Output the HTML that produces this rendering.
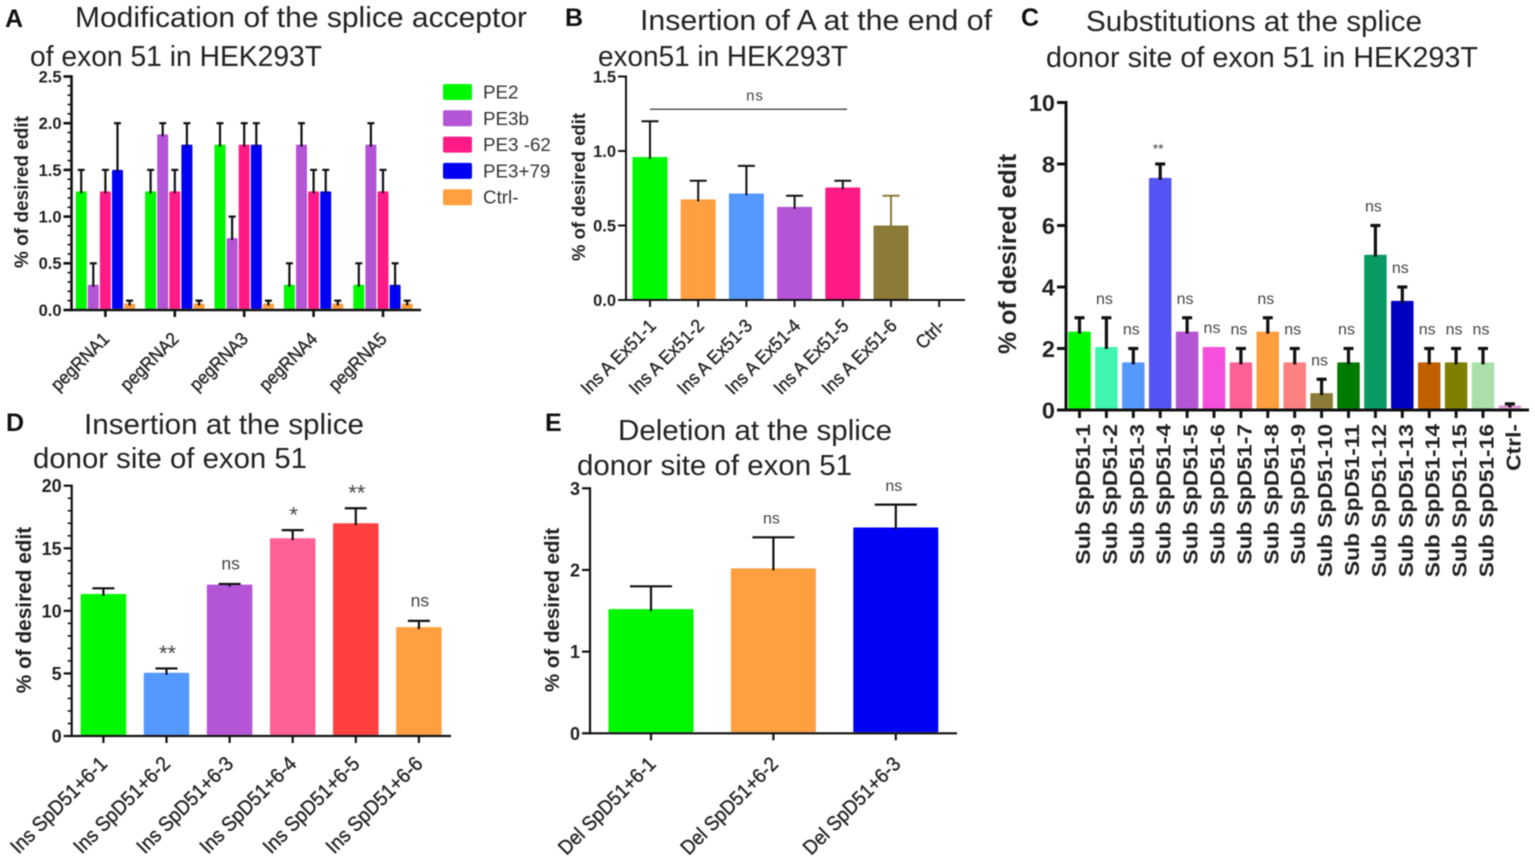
<!DOCTYPE html>
<html lang="en">
<head>
<meta charset="utf-8">
<title>Prime editing of exon 51 in HEK293T</title>
<style>
html,body{margin:0;padding:0;background:#fff;width:1535px;height:860px;overflow:hidden}
svg{position:absolute;left:0;top:0;display:block;filter:blur(0.4px)}
text{font-family:"Liberation Sans",sans-serif}
.title{font-size:29px;fill:#222}
.letter{font-size:25px;font-weight:bold;fill:#111}
</style>
</head>
<body>
<svg id="fig" xmlns="http://www.w3.org/2000/svg" width="1535" height="860" viewBox="0 0 1535 860">
<rect width="1535" height="860" fill="#fff"/>
<text class="letter" x="5" y="27">A</text>
<text class="title" x="75" y="27" textLength="452" lengthAdjust="spacingAndGlyphs">Modification of the splice acceptor</text>
<text class="title" x="30" y="66" textLength="292" lengthAdjust="spacingAndGlyphs">of exon 51 in HEK293T</text>
<text class="letter" x="565" y="26">B</text>
<text class="title" x="640" y="30" textLength="352" lengthAdjust="spacingAndGlyphs">Insertion of A at the end of</text>
<text class="title" x="598" y="66" textLength="250" lengthAdjust="spacingAndGlyphs">exon51 in HEK293T</text>
<text class="letter" x="1021" y="26">C</text>
<text class="title" x="1086" y="31" textLength="336" lengthAdjust="spacingAndGlyphs">Substitutions at the splice</text>
<text class="title" x="1046" y="67" textLength="432" lengthAdjust="spacingAndGlyphs">donor site of exon 51 in HEK293T</text>
<text class="letter" x="6" y="431">D</text>
<text class="title" x="84" y="434" textLength="280" lengthAdjust="spacingAndGlyphs">Insertion at the splice</text>
<text class="title" x="33" y="468" textLength="274" lengthAdjust="spacingAndGlyphs">donor site of exon 51</text>
<text class="letter" x="545" y="431">E</text>
<text class="title" x="618" y="440" textLength="274" lengthAdjust="spacingAndGlyphs">Deletion at the splice</text>
<text class="title" x="577" y="475" textLength="275" lengthAdjust="spacingAndGlyphs">donor site of exon 51</text>
</svg>
<script>
// ---------- Panel A data ----------
var aCategories = ['pegRNA1','pegRNA2','pegRNA3','pegRNA4','pegRNA5'];
var aSeriesNames = ['PE2','PE3b','PE3 -62','PE3+79','Ctrl-'];
var aSeriesColors = ['#00f800','#b455d6','#ff1a85','#0000f5','#ff9f3f'];
var aPE2 = [1.27,1.27,1.77,0.27,0.27];
var aPE3b = [0.27,1.88,0.77,1.77,1.77];
var aPE362 = [1.27,1.27,1.77,1.27,1.27];
var aPE379 = [1.5,1.77,1.77,1.27,0.27];
var aCtrl = [0.07,0.07,0.07,0.07,0.07];
var aPE2Err = [1.5,1.5,2,0.5,0.5];
var aPE3bErr = [0.5,2,1,2,2];
var aPE362Err = [1.5,1.5,2,1.5,1.5];
var aPE379Err = [2,2,2,1.5,0.5];
var aCtrlErr = [0.1,0.1,0.1,0.1,0.1];
var aTicks = ['0.0','0.5','1.0','1.5','2.0','2.5'];
var aMinorStep = [0.1];

// ---------- Panel B data ----------
var bCategories = ['Ins A Ex51-1','Ins A Ex51-2','Ins A Ex51-3','Ins A Ex51-4','Ins A Ex51-5','Ins A Ex51-6','Ctrl-'];
var bValues = [0.96,0.675,0.715,0.625,0.755,0.5,0];
var bErrTops = [1.2,0.8,0.9,0.7,0.8,0.7,0];
var bColors = ['#00f800','#ff9f3f','#5599ff','#b455d6','#ff1a85','#8b7a38','#ffffff'];
var bAnnotations = ['','','','','','',''];
var bTicks = ['0.0','0.5','1.0','1.5'];
var bBracketValue = [1.28];

// ---------- Panel C data ----------
var cCategories = ['Sub SpD51-1','Sub SpD51-2','Sub SpD51-3','Sub SpD51-4','Sub SpD51-5','Sub SpD51-6','Sub SpD51-7','Sub SpD51-8','Sub SpD51-9','Sub SpD51-10','Sub SpD51-11','Sub SpD51-12','Sub SpD51-13','Sub SpD51-14','Sub SpD51-15','Sub SpD51-16','Ctrl-'];
var cValues = [2.55,2.05,1.55,7.55,2.55,2.05,1.55,2.55,1.55,0.55,1.55,5.05,3.55,1.55,1.55,1.55,0.15];
var cErrTops = [3,3,2,8,3,2.05,2,3,2,1,2,6,4,2,2,2,0.2];
var cColors = ['#00f800','#40f5b0','#5599ff','#5555f5','#b455d6','#f54fdc','#ff6096','#ff9f3f','#ff8080','#8b7a38','#007a00','#0a9a64','#0000c0','#c06000','#808000','#aadfaa','#e0a0d8'];
var cAnnotations = ['','ns','ns','**','ns','ns','ns','ns','ns','ns','ns','ns','ns','ns','ns','ns',''];
var cTicks = ['0','2','4','6','8','10'];

// ---------- Panel D data ----------
var dCategories = ['Ins SpD51+6-1','Ins SpD51+6-2','Ins SpD51+6-3','Ins SpD51+6-4','Ins SpD51+6-5','Ins SpD51+6-6'];
var dValues = [11.35,5.05,12.1,15.8,17,8.7];
var dErrTops = [11.8,5.4,12.15,16.45,18.2,9.2];
var dColors = ['#00f800','#5599ff','#b455d6','#ff6096','#ff4040','#ff9f3f'];
var dAnnotations = ['','**','ns','*','**','ns'];
var dTicks = ['0','5','10','15','20'];
var dMinorStep = [1];

// ---------- Panel E data ----------
var eCategories = ['Del SpD51+6-1','Del SpD51+6-2','Del SpD51+6-3'];
var eValues = [1.52,2.02,2.52];
var eErrTops = [1.8,2.4,2.8];
var eColors = ['#00f800','#ff9f3f','#0000f5'];
var eAnnotations = ['','ns','ns'];
var eTicks = ['0','1','2','3'];

var svg = document.getElementById('fig');
var NS = 'http://www.w3.org/2000/svg';

function mk(tag, attrs, txt) {
  var el = document.createElementNS(NS, tag);
  for (var k in attrs) el.setAttribute(k, attrs[k]);
  if (txt !== undefined) el.textContent = txt;
  svg.appendChild(el);
  return el;
}

function yOf(g, v) { return g.yZero - v / g.maxV * (g.yZero - g.yTop); }
function xOf(g, i) { return g.x0 + i * g.step; }

function drawAxes(g, ticks, cats, minorStep, prefix) {
  var i, el;
  if (minorStep) {
    for (var m = minorStep; m < g.maxV - 1e-6; m += minorStep) {
      el = mk('line', {x1: g.axisX - g.minorLen, x2: g.axisX, y1: yOf(g, m), y2: yOf(g, m), stroke: '#111', 'stroke-width': 1.6});
      
      
    }
  }
  for (i = 0; i < ticks.length; i++) {
    var v = parseFloat(ticks[i]);
    el = mk('line', {x1: g.axisX - g.tickLen, x2: g.axisX, y1: yOf(g, v), y2: yOf(g, v), stroke: '#111', 'stroke-width': g.axisW});
    
    
    el = mk('text', {x: g.axisX - g.tickLen - 2, y: yOf(g, v) + g.tickFs * 0.36, 'text-anchor': 'end', 'font-size': g.tickFs, 'font-weight': 'bold', fill: '#222'}, ticks[i]);
    
    
  }
  el = mk('line', {x1: g.axisX, x2: g.axisX, y1: g.yTop - g.axisW / 2, y2: g.yZero + g.axisW / 2, stroke: '#111', 'stroke-width': g.axisW});
  
  
  el = mk('line', {x1: g.axisX, x2: g.xEnd, y1: g.yZero, y2: g.yZero, stroke: '#111', 'stroke-width': g.axisW});
  
  
  for (i = 0; i < cats.length; i++) {
    var x = xOf(g, i);
    el = mk('line', {x1: x, x2: x, y1: g.yZero, y2: g.yZero + g.xTickLen, stroke: '#111', 'stroke-width': g.axisW});
    
    
    var lx = x + g.labelDx, ly = g.yZero + g.labelDy;
    var tr = g.vertical ? 'translate(' + lx + ' ' + ly + ') rotate(-90) scale(1 0.88)' : 'translate(' + lx + ' ' + ly + ') rotate(-45) scale(0.92 1)';
    var attrs = {transform: tr, 'text-anchor': 'end', 'font-size': g.labelFs, fill: '#222'};
    if (g.labelBold) { attrs['font-weight'] = 'bold'; } else { attrs.stroke = '#222'; attrs['stroke-width'] = 0.35; }
    el = mk('text', attrs, cats[i]);
    
    
  }
  el = mk('text', {transform: 'translate(' + g.titleX + ' ' + g.titleY + ') rotate(-90)', 'text-anchor': 'middle', 'font-size': g.titleFs, 'font-weight': 'bold', fill: '#222'}, '% of desired edit');
  
  
}

function drawBar(g, cx, w, v, top, color, errColor, capW, errW, prefix) {
  var el;
  if (v > 0) {
    el = mk('rect', {x: cx - w / 2, y: yOf(g, v), width: w, height: g.yZero - yOf(g, v) - g.axisW / 2, fill: color, rx: 1});
    
    
  }
  if (top > v) {
    el = mk('line', {x1: cx, x2: cx, y1: yOf(g, v) + 2, y2: yOf(g, top), stroke: errColor, 'stroke-width': errW});
    
    
    el = mk('line', {x1: cx - capW / 2, x2: cx + capW / 2, y1: yOf(g, top), y2: yOf(g, top), stroke: errColor, 'stroke-width': errW});
    
    
  }
}

function drawAnnotation(g, i, label, top, prefix) {
  if (!label) return;
  var star = label.charAt(0) === '*';
  var fs = star ? g.starFs : g.nsFs;
  var cy = yOf(g, top) - g.annGap;
  var el = mk('text', {x: xOf(g, i) + g.annDx, y: cy + (star ? fs * 0.52 : fs * 0.26), 'text-anchor': 'middle', 'font-size': fs, fill: '#444'}, label);
  
  
}

function drawSimple(g, cats, vals, tops, colors, anns, ticks, minorStep, prefix) {
  for (var i = 0; i < cats.length; i++) {
    var ec = g.errColors && g.errColors[i] ? g.errColors[i] : '#111';
    drawBar(g, xOf(g, i), g.barW, vals[i], tops[i], colors[i], ec, g.capW, g.errW, prefix);
    drawAnnotation(g, i, anns[i], tops[i], prefix);
  }
  drawAxes(g, ticks, cats, minorStep, prefix);
}

// ---------- Panel A ----------
var gA = {x0:105.4, step:69.4, yZero:310, yTop:76.5, maxV:2.5, axisX:71.5, xEnd:421, axisW:2.6, tickLen:8, minorLen:4, xTickLen:7, tickFs:16.5, labelDx:5, labelDy:30, labelFs:18.5, titleX:28, titleY:192, titleFs:19};
var aAllValues = [aPE2, aPE3b, aPE362, aPE379, aCtrl];
var aAllErr = [aPE2Err, aPE3bErr, aPE362Err, aPE379Err, aCtrlErr];
aAllValues.forEach(function (series, s) {
  series.forEach(function (v, i) {
    drawBar(gA, xOf(gA, i) + (s - 2) * 12.1, 11, v, aAllErr[s][i], aSeriesColors[s], '#111', 7, 2.2, 'panel-a');
  });
});
drawAxes(gA, aTicks, aCategories, aMinorStep[0], 'panel-a');
aSeriesNames.forEach(function (name, s) {
  var rowY = 92 + s * 26.3;
  var sw = mk('rect', {x: 443, y: rowY - 8, width: 29, height: 16, rx: 2, fill: aSeriesColors[s]});
  
  
  var lb = mk('text', {x: 483, y: rowY + 6.5, 'font-size': 18.8, fill: '#333'}, name);
  
  
});

// ---------- Panel B ----------
var gB = {x0:650, step:48.2, yZero:300, yTop:76.5, maxV:1.5, axisX:626, xEnd:965, axisW:2, tickLen:8, xTickLen:7, tickFs:16.5, labelDx:7, labelDy:27, labelFs:18.8, titleX:585, titleY:187, titleFs:18.5, barW:35, capW:17, errW:2, errColors:['','','','','','#8b7a38','']};
drawSimple(gB, bCategories, bValues, bErrTops, bColors, bAnnotations, bTicks, null, 'panel-b');
var bl = mk('line', {x1: 650, x2: 847, y1: yOf(gB, bBracketValue[0]), y2: yOf(gB, bBracketValue[0]), stroke: '#333', 'stroke-width': 1.2});


var bn = mk('text', {x: 755, y: yOf(gB, bBracketValue[0]) - 9, 'text-anchor': 'middle', 'font-size': 15, 'letter-spacing': 1, fill: '#444'}, 'ns');



// ---------- Panel C ----------
var gC = {x0:1079.5, step:26.9, yZero:410, yTop:102.5, maxV:10, axisX:1066, xEnd:1529, axisW:3, tickLen:9, xTickLen:8, tickFs:23.5, labelDx:10.5, labelDy:14, labelFs:22.8, labelBold:true, vertical:true, titleX:1016, titleY:254, titleFs:25, barW:22.5, capW:10, errW:3.2, annGap:18, annDx:-2, nsFs:16, starFs:14};
drawSimple(gC, cCategories, cValues, cErrTops, cColors, cAnnotations, cTicks, null, 'panel-c');

// ---------- Panel D ----------
var gD = {x0:103.4, step:63.1, yZero:736, yTop:485.7, maxV:20, axisX:71.7, xEnd:451, axisW:2.2, tickLen:8, minorLen:4, xTickLen:7, tickFs:18, labelDx:5, labelDy:29, labelFs:20.6, titleX:31, titleY:610, titleFs:20.8, barW:45.5, capW:22, errW:2.2, annGap:19, annDx:1, nsFs:17.5, starFs:22};
drawSimple(gD, dCategories, dValues, dErrTops, dColors, dAnnotations, dTicks, dMinorStep[0], 'panel-d');

// ---------- Panel E ----------
var gE = {x0:651, step:122.4, yZero:733.3, yTop:488.3, maxV:3, axisX:590, xEnd:957, axisW:2.2, tickLen:8, xTickLen:7, tickFs:18, labelDx:6, labelDy:32, labelFs:20.3, titleX:559, titleY:610, titleFs:20.5, barW:85, capW:42, errW:2.2, annGap:18, annDx:-2, nsFs:16, starFs:22};
drawSimple(gE, eCategories, eValues, eErrTops, eColors, eAnnotations, eTicks, null, 'panel-e');
</script>
</body>
</html>
